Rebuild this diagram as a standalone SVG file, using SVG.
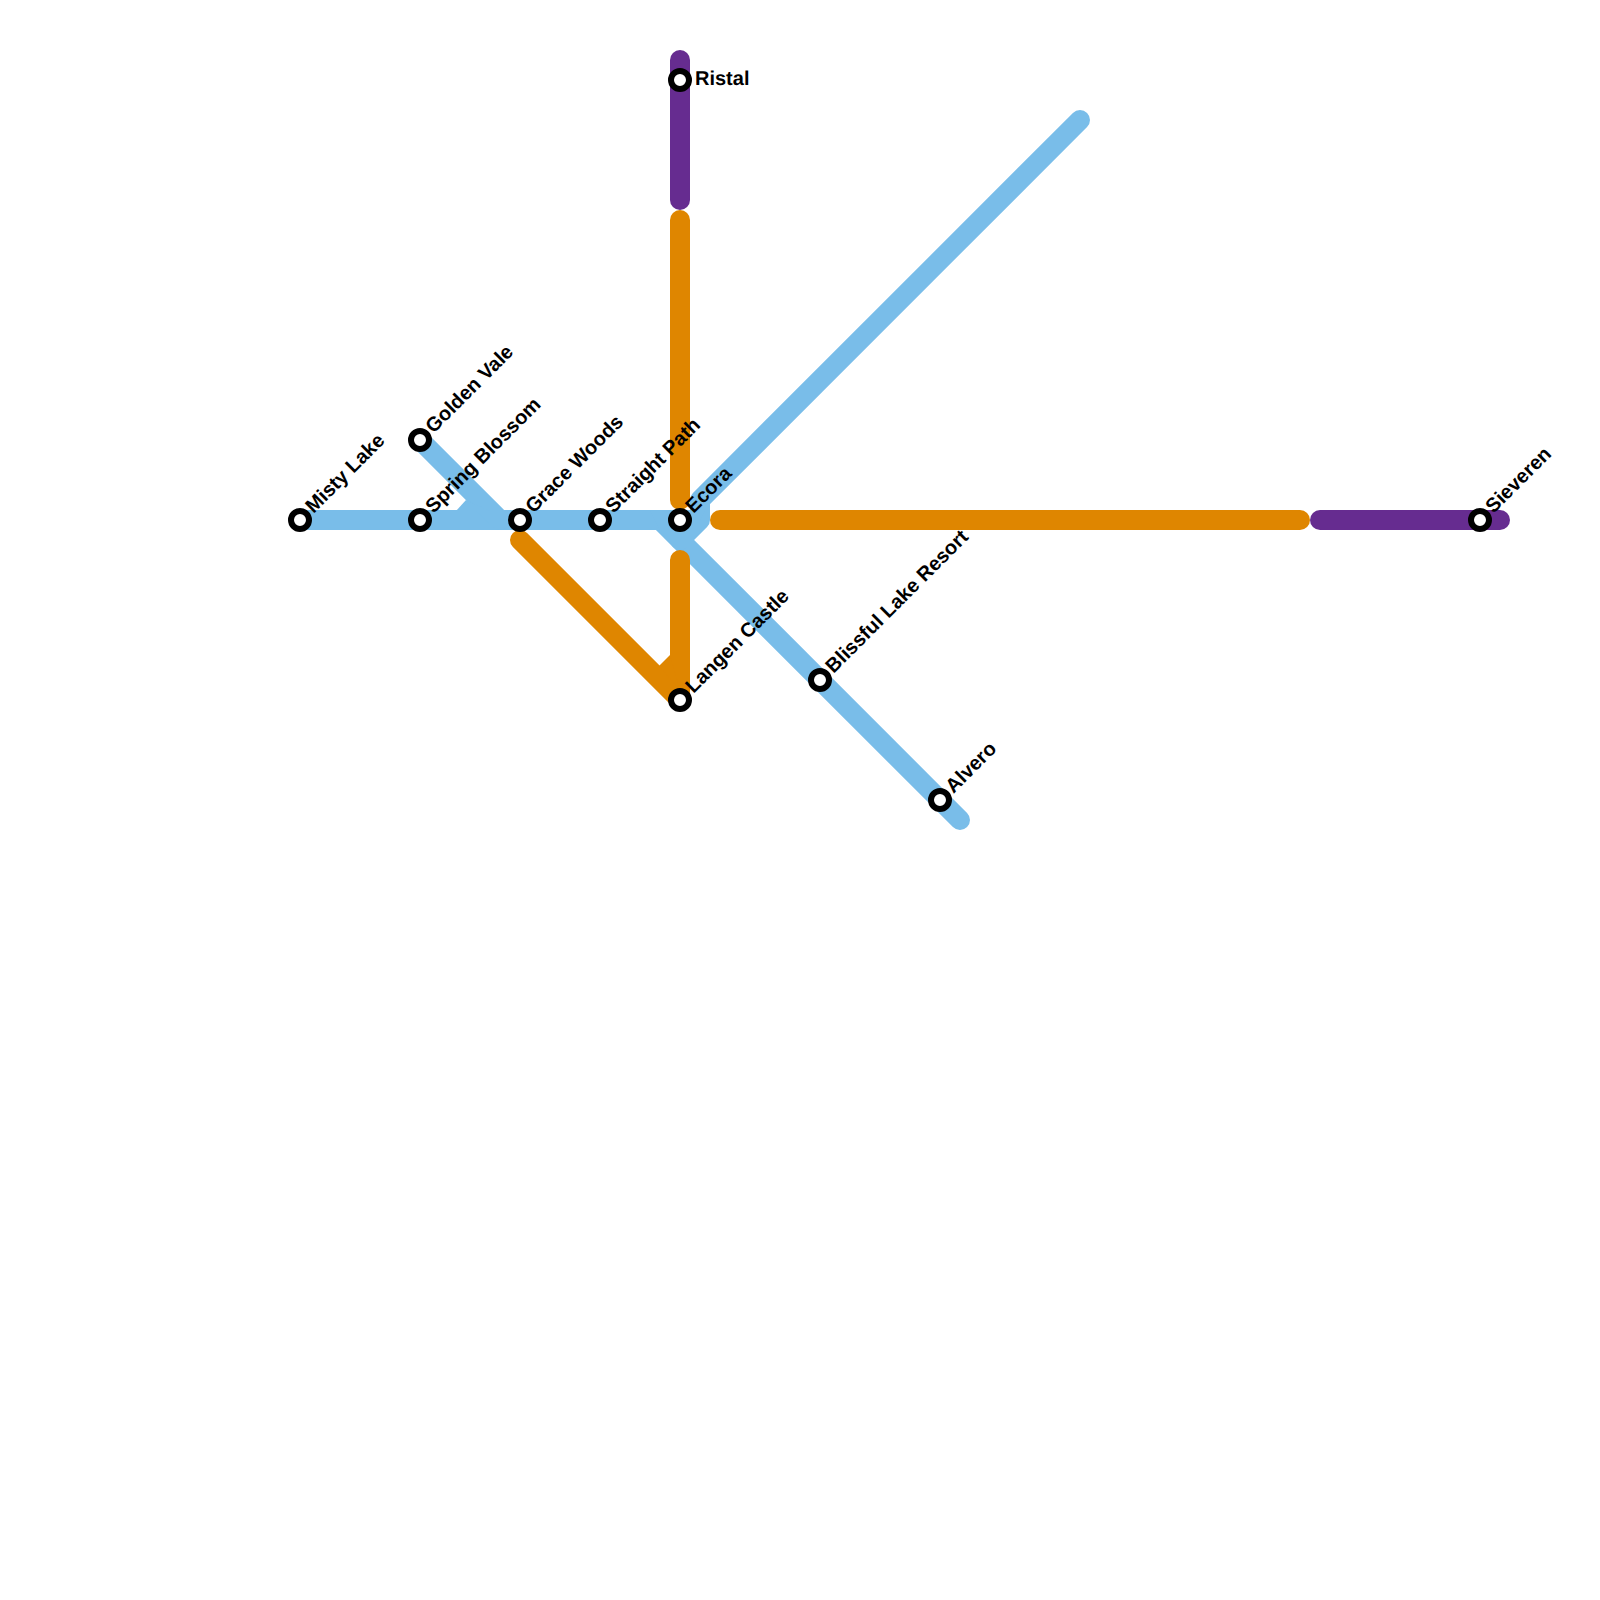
<svg xmlns="http://www.w3.org/2000/svg" width="1600" height="1600" viewBox="0 0 1600 1600">
<style>
.l{fill:none;stroke-width:20;stroke-linecap:round;stroke-linejoin:round}
.b{stroke:#79bde9}.o{stroke:#df8600}.p{stroke:#662c90}
.s{fill:#fff;stroke:#000;stroke-width:6}
text{font-family:"Liberation Sans",Arial,sans-serif;font-size:20px;font-weight:700;fill:#000;text-rendering:geometricPrecision}
</style>
<g id="connectors">
<path class="l o" d="M680,220V500"/>
<path class="l b" d="M300,520H660L960,820"/>
<path class="l b" d="M420,440L500,520"/>
<path class="l b" d="M1080,120L700,500V520L680,540"/>
<polygon points="456,511 466,500 490,511" fill="#79bde9"/>
<polygon points="650,510 680,510 705,510 700,520 680,540 660,530" fill="#79bde9"/>
<path class="l o" d="M720,520H1300"/>
<path class="l p" d="M1320,520H1500"/>
<path class="l p" d="M680,60V200"/>
<path class="l o" d="M520,540L680,700V560"/>
<polygon points="670,655 659,666 680,690" fill="#df8600"/>
</g>
<g id="misty-lake"><circle class="s" cx="300" cy="520" r="9"/><text transform="translate(313.5,514) rotate(-45)">Misty Lake</text></g>
<g id="spring-blossom"><circle class="s" cx="420" cy="520" r="9"/><text transform="translate(433.5,514) rotate(-45)">Spring Blossom</text></g>
<g id="golden-vale"><circle class="s" cx="420" cy="440" r="9"/><text transform="translate(433.5,434) rotate(-45)">Golden Vale</text></g>
<g id="grace-woods"><circle class="s" cx="520" cy="520" r="9"/><text transform="translate(533.5,514) rotate(-45)">Grace Woods</text></g>
<g id="straight-path"><circle class="s" cx="600" cy="520" r="9"/><text transform="translate(613.5,514) rotate(-45)">Straight Path</text></g>
<g id="ecora"><circle class="s" cx="680" cy="520" r="9"/><text transform="translate(693.5,514) rotate(-45)">Ecora</text></g>
<g id="langen-castle"><circle class="s" cx="680" cy="700" r="9"/><text transform="translate(693.5,694) rotate(-45)">Langen Castle</text></g>
<g id="blissful-lake-resort"><circle class="s" cx="820" cy="680" r="9"/><text transform="translate(833.5,674) rotate(-45)">Blissful Lake Resort</text></g>
<g id="alvero"><circle class="s" cx="940" cy="800" r="9"/><text transform="translate(953.5,794) rotate(-45)">Alvero</text></g>
<g id="sieveren"><circle class="s" cx="1480" cy="520" r="9"/><text transform="translate(1493.5,514) rotate(-45)">Sieveren</text></g>
<g id="ristal"><circle class="s" cx="680" cy="80" r="9"/><text x="695" y="85">Ristal</text></g>
</svg>
